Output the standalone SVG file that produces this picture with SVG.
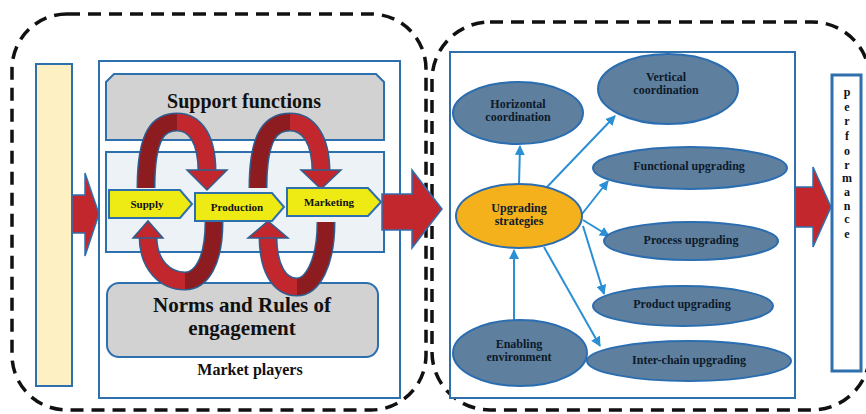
<svg xmlns="http://www.w3.org/2000/svg" width="866" height="414" viewBox="0 0 866 414">
<defs>
<style>
.dash{fill:none;stroke:#111;stroke-width:3.5;stroke-dasharray:13 8}
.box{stroke:#2e6fae;stroke-width:2}
.ser{font-family:"Liberation Serif","Times New Roman",serif;font-weight:bold;fill:#111;text-anchor:middle}
.ell{fill:#5e7f9e;stroke:#2a6db0;stroke-width:2}
.et{font-family:"Liberation Serif","Times New Roman",serif;font-weight:bold;font-size:12px;fill:#0d1a2a;text-anchor:middle}
.con{fill:none;stroke:#2b8fd4;stroke-width:2}
.rout{fill:none;stroke:#2e5f90;stroke-width:19}
.rb{fill:none;stroke:#c1272d;stroke-width:16}
.rd{fill:none;stroke:#8c1c20;stroke-width:16}
.rh{fill:#c1272d;stroke:#2e5f90;stroke-width:1.5}
.chev{fill:#eeea14;stroke:#2e6fae;stroke-width:2}
.ct{font-family:"Liberation Serif","Times New Roman",serif;font-weight:bold;font-size:11px;fill:#111;text-anchor:middle}
.big{fill:#c1272d;stroke:#2e6fae;stroke-width:1.5}
</style>
<marker id="ah" viewBox="0 0 10 10" refX="9" refY="5" markerWidth="5" markerHeight="5" orient="auto-start-reverse">
<path d="M0,0 L10,5 L0,10 z" fill="#2b8fd4"/>
</marker>
</defs>
<rect width="866" height="414" fill="#fff"/>

<g id="regions">
<rect class="dash" x="12" y="14" width="414" height="396" rx="55"/>
<rect class="dash" x="432" y="22" width="438" height="388" rx="58"/>
</g>

<g id="input-bar">
<rect x="36" y="64" width="36" height="322" fill="#fdf1c4" class="box"/>
</g>

<g id="market-players">
<rect x="99" y="61" width="301" height="337" fill="#fff" class="box"/>
<text class="ser" x="250" y="375" font-size="16">Market players</text>
</g>

<g id="support-functions">
<path d="M114,74 L376,74 L384,82 L384,140 L106,140 L106,82 Z" fill="#d2d2d2" class="box"/>
<text class="ser" x="244" y="108" font-size="20">Support functions</text>
</g>

<g id="chain-band">
<rect x="106" y="152" width="278" height="100" fill="#edf2f7" class="box"/>
</g>

<g id="norms">
<rect x="107" y="283" width="271" height="74" rx="12" fill="#d2d2d2" class="box"/>
</g>

<g id="loops">
<!-- left loop top arc -->
<path class="rout" d="M146,188 C146,132 160,122 177,122 C196,122 207,140 207,172"/>
<path class="rd" d="M146,188 C146,132 160,122 177,122"/>
<path class="rb" d="M177,122 C196,122 207,140 207,172"/>
<polygon class="rh" points="187,170 227,170 207,190"/>
<!-- right loop top arc -->
<path class="rout" d="M258,188 C258,132 273,122 290,122 C309,122 321,140 321,172"/>
<path class="rd" d="M258,188 C258,132 273,122 290,122"/>
<path class="rb" d="M290,122 C309,122 321,140 321,172"/>
<polygon class="rh" points="301,170 341,170 321,189"/>
<!-- left loop bottom arc -->
<path class="rout" d="M214,222 C214,262 201,281 185,281 C166,281 148,266 148,236"/>
<path class="rd" d="M214,222 C214,262 201,281 185,281"/>
<path class="rb" d="M185,281 C166,281 148,266 148,236"/>
<polygon class="rh" points="133,238 163,238 148,221"/>
<!-- right loop bottom arc -->
<path class="rout" d="M326,222 C326,264 312,287 297,287 C279,287 268,268 268,236"/>
<path class="rd" d="M326,222 C326,264 312,287 297,287"/>
<path class="rb" d="M297,287 C279,287 268,268 268,236"/>
<polygon class="rh" points="248,238 288,238 268,221"/>
</g>

<g id="norms-text">
<text class="ser" x="242" y="312" font-size="21">Norms and Rules of</text>
<text class="ser" x="242" y="335" font-size="21">engagement</text>
</g>

<g id="supply">
<polygon class="chev" points="109,190 180,190 192,204 180,218 109,218"/>
<text class="ct" x="147" y="208">Supply</text>
</g>
<g id="production">
<polygon class="chev" points="195,193 272,193 284,207 272,221 195,221"/>
<text class="ct" x="237" y="211">Production</text>
</g>
<g id="marketing">
<polygon class="chev" points="287,188 368,188 381,202 368,216 287,216"/>
<text class="ct" x="329" y="206">Marketing</text>
</g>

<g id="big-arrows">
<polygon class="big" points="72,195 85,195 85,173 99,214 85,256 85,233 72,233"/>
<polygon class="big" points="382,194 412,194 412,170 442,209 412,248 412,230 382,230"/>
<polygon class="big" points="793,187 813,187 813,167 831,207 813,247 813,227 793,227"/>
</g>

<g id="upgrading-box">
<rect x="450" y="52" width="345" height="346" fill="#fff" class="box"/>
</g>

<g id="connectors">
<line class="con" x1="519" y1="184" x2="520" y2="146" marker-end="url(#ah)"/>
<line class="con" x1="547" y1="187" x2="615" y2="116" marker-end="url(#ah)"/>
<line class="con" x1="582" y1="214" x2="608" y2="181" marker-end="url(#ah)"/>
<line class="con" x1="583" y1="220" x2="609" y2="236" marker-end="url(#ah)"/>
<line class="con" x1="583" y1="226" x2="604" y2="294" marker-end="url(#ah)"/>
<line class="con" x1="544" y1="247" x2="600" y2="346" marker-end="url(#ah)"/>
<line class="con" x1="514" y1="321" x2="514" y2="250" marker-end="url(#ah)"/>
</g>

<g id="horizontal-coordination">
<ellipse class="ell" cx="518" cy="113" rx="65" ry="31"/>
<text class="et" x="518" y="108">Horizontal</text>
<text class="et" x="518" y="121">coordination</text>
</g>
<g id="vertical-coordination">
<ellipse class="ell" cx="668" cy="89" rx="70" ry="35"/>
<text class="et" x="666" y="81">Vertical</text>
<text class="et" x="666" y="94">coordination</text>
</g>
<g id="functional-upgrading">
<ellipse class="ell" cx="690" cy="168" rx="97" ry="21"/>
<text class="et" x="689" y="170">Functional upgrading</text>
</g>
<g id="upgrading-strategies">
<ellipse cx="519" cy="216" rx="63" ry="32" fill="#f5b11b" stroke="#2a6db0" stroke-width="2"/>
<text class="et" x="519" y="212">Upgrading</text>
<text class="et" x="519" y="225">strategies</text>
</g>
<g id="process-upgrading">
<ellipse class="ell" cx="691" cy="241" rx="87" ry="19"/>
<text class="et" x="691" y="244">Process upgrading</text>
</g>
<g id="product-upgrading">
<ellipse class="ell" cx="683" cy="306" rx="90" ry="20"/>
<text class="et" x="682" y="308">Product upgrading</text>
</g>
<g id="enabling-environment">
<ellipse class="ell" cx="520" cy="353" rx="67" ry="33"/>
<text class="et" x="519" y="348">Enabling</text>
<text class="et" x="519" y="361">environment</text>
</g>
<g id="inter-chain-upgrading">
<ellipse class="ell" cx="689" cy="361" rx="102" ry="20"/>
<text class="et" x="689" y="364">Inter-chain upgrading</text>
</g>

<g id="performance">
<rect x="832" y="75" width="29" height="296" fill="#fff" stroke="#2e6fae" stroke-width="3"/>
<g class="ser" font-size="12" fill="#1d2a1d">
<text x="847" y="96">p</text>
<text x="847" y="111">e</text>
<text x="847" y="125">r</text>
<text x="847" y="140">f</text>
<text x="847" y="155">o</text>
<text x="847" y="169">r</text>
<text x="847" y="182">m</text>
<text x="847" y="196">a</text>
<text x="847" y="210">n</text>
<text x="847" y="223">c</text>
<text x="847" y="238">e</text>
</g>
</g>
</svg>
